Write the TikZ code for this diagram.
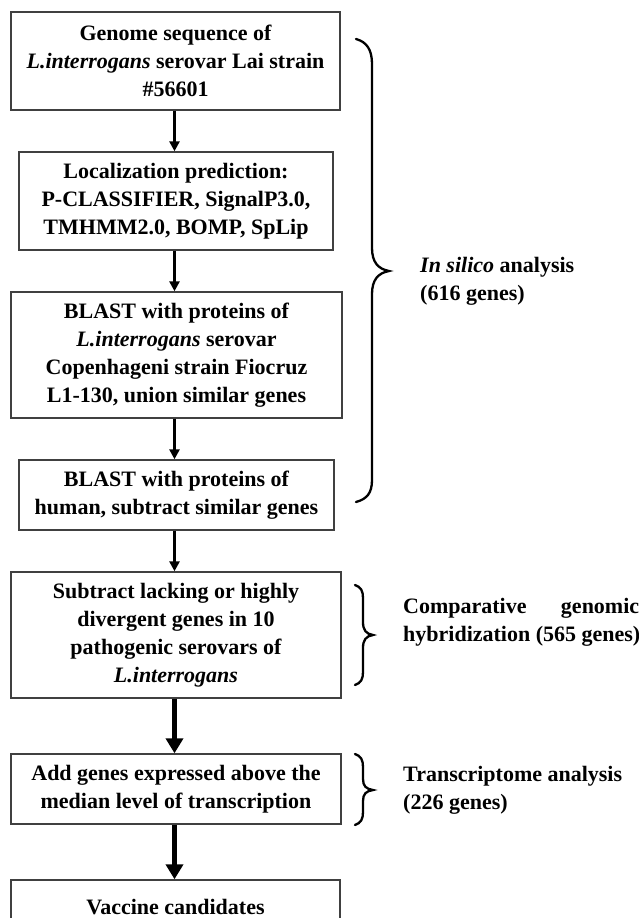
\documentclass[tikz,border=0pt]{standalone}
\usepackage{fontspec}
\setmainfont{Liberation Serif}
\usetikzlibrary{arrows.meta}
\begin{document}
\begin{tikzpicture}[x=1pt,y=-1pt,
  flowbox/.style={draw=black!75, line width=1.4pt, align=center, inner sep=0pt,
    font=\fontsize{22}{28}\selectfont\bfseries},
  thinarr/.style={line width=2.6pt, -{Triangle[width=10pt,length=10pt]}},
  thickarr/.style={line width=4.6pt, -{Triangle[width=17pt,length=15pt]}},
  curly/.style={line width=2.3pt, line cap=round},
  sidelbl/.style={anchor=west, align=left, inner sep=0pt,
    font=\fontsize{22}{28}\selectfont\bfseries}]
\useasboundingbox (0,0) rectangle (639,918);
\clip (0,0) rectangle (639,918);
\fill[white] (0,0) rectangle (639,918);

\node[flowbox, minimum width=329pt, minimum height=98pt] (n1) at (175.5,61)
  {Genome sequence of\\ \textit{L.interrogans} serovar Lai strain\\ \#56601};
\node[flowbox, minimum width=314pt, minimum height=98pt] (n2) at (176,201)
  {Localization prediction:\\ P-CLASSIFIER, SignalP3.0,\\ TMHMM2.0, BOMP, SpLip};
\node[flowbox, minimum width=331pt, minimum height=126pt] (n3) at (176.5,355)
  {BLAST with proteins of\\ \textit{L.interrogans} serovar\\ Copenhageni strain Fiocruz\\ L1-130, union similar genes};
\node[flowbox, minimum width=315pt, minimum height=70pt] (n4) at (176.5,495)
  {BLAST with proteins of\\ human, subtract similar genes};
\node[flowbox, minimum width=330pt, minimum height=126pt] (n5) at (176,635)
  {Subtract lacking or highly\\ divergent genes in 10\\ pathogenic serovars of\\ \textit{L.interrogans}};
\node[flowbox, minimum width=330pt, minimum height=70pt] (n6) at (176,789)
  {Add genes expressed above the\\ median level of transcription};
\node[flowbox, minimum width=329pt, minimum height=54pt] (n7) at (175.5,907)
  {Vaccine candidates};

\coordinate (a1) at (174.5,0);
\draw[thinarr] (n1.south -| a1) -- (n2.north -| a1);
\draw[thinarr] (n2.south -| a1) -- (n3.north -| a1);
\draw[thinarr] (n3.south -| a1) -- (n4.north -| a1);
\draw[thinarr] (n4.south -| a1) -- (n5.north -| a1);
\draw[thickarr] (n5.south -| a1) -- (n6.north -| a1);
\draw[thickarr] (n6.south -| a1) -- (n7.north -| a1);

% braces
\draw[curly] (356,39) .. controls (367,42) and (372,50) .. (372,64)
  -- (372,248) .. controls (372,262) and (378,269) .. (389,271)
  .. controls (378,273) and (372,280) .. (372,294)
  -- (372,480) .. controls (372,493) and (367,499) .. (356,502);
\draw[curly] (355,585) .. controls (361,587) and (363,591) .. (363,598)
  -- (363,622) .. controls (363,630) and (366,634) .. (373,635)
  .. controls (366,636) and (363,640) .. (363,648)
  -- (363,672) .. controls (363,679) and (361,683) .. (355,685);
\draw[curly] (355,754) .. controls (361,756) and (363,760) .. (363,767)
  -- (363,779) .. controls (363,786) and (366,789) .. (373,790)
  .. controls (366,791) and (363,794) .. (363,801)
  -- (363,812) .. controls (363,819) and (361,823) .. (355,825);

\node[sidelbl] (t1) at (420,281) {\textit{In silico} analysis\\ (616 genes)};
\node[sidelbl] (t2) at (403,622) {\hbox to 236pt{Comparative\hfill genomic}\\ hybridization (565 genes)};
\node[sidelbl] (t3) at (403,790) {Transcriptome analysis\\ (226 genes)};
\end{tikzpicture}
\end{document}
